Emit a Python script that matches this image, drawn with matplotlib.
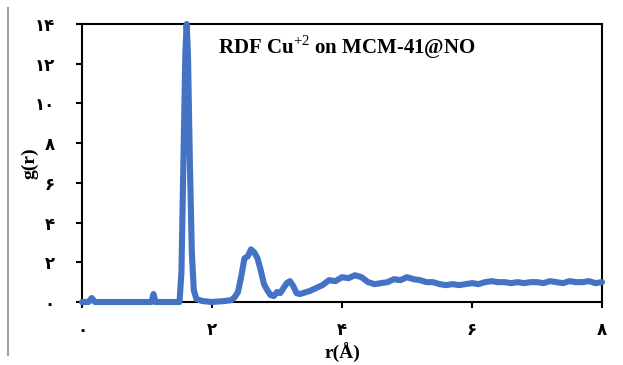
"""
RDF of Cu+2 on MCM-41@NO, Persian-digit axes
"""

import matplotlib
matplotlib.use('Agg')
import matplotlib.pyplot as plt
from matplotlib.lines import Line2D

plt.rcParams['font.family'] = ['Liberation Serif', 'DejaVu Serif']
plt.rcParams['mathtext.fontset'] = 'custom'
plt.rcParams['mathtext.rm'] = 'Liberation Serif'
plt.rcParams['mathtext.bf'] = 'Liberation Serif:bold'

# Data
r = [0.00, 0.10, 0.15, 0.20, 0.40, 0.60, 0.80, 1.00, 1.07, 1.10, 1.13, 1.30,
     1.50, 1.53, 1.56, 1.59, 1.61, 1.63, 1.66, 1.69, 1.72, 1.76, 1.85, 2.00,
     2.20, 2.30, 2.35, 2.40, 2.45, 2.50, 2.55, 2.60, 2.65, 2.70, 2.75, 2.80,
     2.85, 2.90, 2.95, 3.00, 3.05, 3.10, 3.15, 3.20, 3.25, 3.30, 3.35, 3.40,
     3.50, 3.60, 3.70, 3.80, 3.90, 4.00, 4.10, 4.20, 4.30, 4.40, 4.50, 4.60,
     4.70, 4.80, 4.90, 5.00, 5.10, 5.20, 5.30, 5.40, 5.50, 5.60, 5.70, 5.80,
     5.90, 6.00, 6.10, 6.20, 6.30, 6.40, 6.50, 6.60, 6.70, 6.80, 6.90, 7.00,
     7.10, 7.20, 7.30, 7.40, 7.50, 7.60, 7.70, 7.80, 7.90, 8.00]
g = [0.00, 0.00, 0.20, 0.00, 0.00, 0.00, 0.00, 0.00, 0.00, 0.40, 0.00, 0.00,
     0.00, 1.50, 7.00, 12.5, 14.0, 12.5, 7.00, 2.50, 0.60, 0.15, 0.05, 0.00,
     0.05, 0.10, 0.25, 0.50, 1.30, 2.20, 2.30, 2.65, 2.50, 2.20, 1.60, 0.90,
     0.60, 0.35, 0.30, 0.50, 0.45, 0.70, 0.95, 1.05, 0.80, 0.45, 0.40, 0.45,
     0.55, 0.70, 0.85, 1.10, 1.05, 1.25, 1.20, 1.35, 1.25, 1.00, 0.90, 0.95,
     1.00, 1.15, 1.10, 1.25, 1.15, 1.10, 1.00, 1.00, 0.90, 0.85, 0.90, 0.85,
     0.90, 0.95, 0.90, 1.00, 1.05, 1.00, 1.00, 0.95, 1.00, 0.95, 1.00, 1.00,
     0.95, 1.05, 1.00, 0.95, 1.05, 1.00, 1.00, 1.05, 0.95, 1.00]

x_ticks = [0, 2, 4, 6, 8]
y_ticks = [0, 2, 4, 6, 8, 10, 12, 14]
persian = str.maketrans('0123456789', '۰۱۲۳۴۵۶۷۸۹')

fig = plt.figure(figsize=(6.23, 3.65), dpi=100)
ax = fig.add_axes([0.1316, 0.1726, 0.8347, 0.7616])

ax.plot(r, g, color='#4472C4', lw=4.4, solid_joinstyle='round',
        solid_capstyle='round', clip_on=False, zorder=3)

ax.set_xlim(0, 8)
ax.set_ylim(0, 14)
ax.set_xticks(x_ticks)
ax.set_yticks(y_ticks)
ax.set_xticklabels([str(v).translate(persian) for v in x_ticks],
                   family='DejaVu Sans', weight='bold', fontsize=12)
ax.set_yticklabels([str(v).translate(persian) for v in y_ticks],
                   family='DejaVu Sans', weight='bold', fontsize=12)
ax.tick_params(axis='both', direction='out', length=4.5, width=1.5)
ax.tick_params(axis='x', pad=9)
ax.tick_params(axis='y', pad=15)
for s in ax.spines.values():
    s.set_linewidth(1.5)

ax.set_xlabel('r(Å)', fontsize=14, weight='bold', labelpad=3)
ax.set_ylabel('g(r)', fontsize=14, weight='bold', labelpad=-3)

ax.text(0.262, 0.915, r'RDF Cu$^{+2}$ on MCM-41@NO', transform=ax.transAxes,
        fontsize=15, weight='bold', ha='left', va='center')

# grey page-edge line on the left
fig.add_artist(Line2D([8 / 623, 8 / 623], [1 - 8 / 365, 1 - 355 / 365],
                      color='#a0a0a0', lw=1.5))

fig.savefig('out.png', dpi=100)
plt.close(fig)
